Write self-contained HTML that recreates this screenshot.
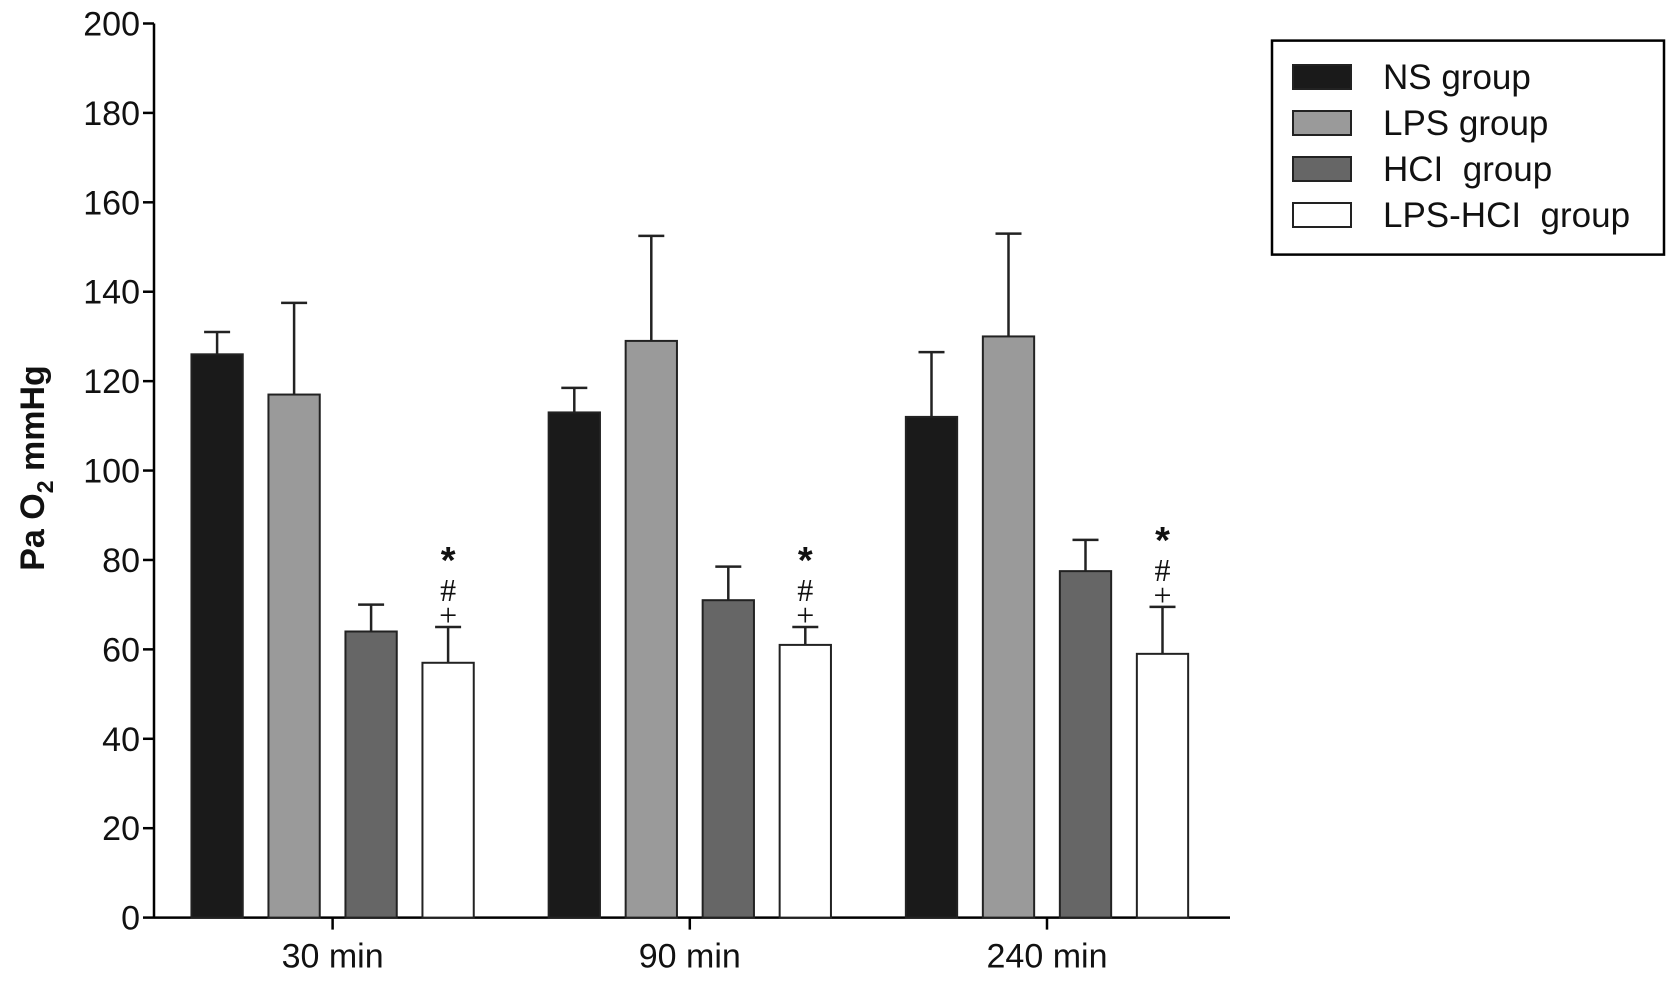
<!DOCTYPE html>
<html><head><meta charset="utf-8"><style>
html,body{margin:0;padding:0;background:#fff;}
svg{display:block;font-family:"Liberation Sans",sans-serif;}
</style></head><body>
<svg id="c" width="1677" height="981"></svg>
<script>
const categories=["30 min","90 min","240 min"];
const seriesNames=["NS group","LPS group","HCI  group","LPS-HCI  group"];
const nsValues=[126,113,112];
const nsErrors=[5,5.5,14.5];
const lpsValues=[117,129,130];
const lpsErrors=[20.5,23.5,23];
const hclValues=[64,71,77.5];
const hclErrors=[6,7.5,7];
const lpsHclValues=[57,61,59];
const lpsHclErrors=[8,4,10.5];
const yTicks=[0,20,40,60,80,100,120,140,160,180,200];
const seriesValues=[nsValues,lpsValues,hclValues,lpsHclValues];
const seriesErrors=[nsErrors,lpsErrors,hclErrors,lpsHclErrors];
const colors=["#1a1a1a","#9a9a9a","#666666","#ffffff"];
const NS="http://www.w3.org/2000/svg";
const svg=document.getElementById('c');
const x0=154,x1=1230,yTop=23.5,yBot=917.6;
const y=v=>yBot-(v/200)*(yBot-yTop);
const catX=i=>332.6+i*357.2;
const bw=51.3,step=77;
function mk(t,a,p){const e=document.createElementNS(NS,t);for(const k in a)e.setAttribute(k,a[k]);(p||svg).appendChild(e);return e;}
let e=mk('line',{x1:x0,y1:yTop,x2:x0,y2:yBot,stroke:'#000','stroke-width':2.5});


e=mk('line',{x1:x0,y1:yBot,x2:x1,y2:yBot,stroke:'#000','stroke-width':2.5});


yTicks.forEach(t=>{
  const l=mk('line',{x1:x0-11,y1:y(t),x2:x0,y2:y(t),stroke:'#000','stroke-width':2.5});
  
  
  const tx=mk('text',{x:x0-14,y:y(t)+12,'text-anchor':'end','font-size':34,fill:'#111'});
  tx.textContent=t;
  
  
});
categories.forEach((c,i)=>{
  const l=mk('line',{x1:catX(i),y1:yBot,x2:catX(i),y2:yBot+12,stroke:'#000','stroke-width':2.5});
  
  
  const tx=mk('text',{x:catX(i),y:yBot+50,'text-anchor':'middle','font-size':34,fill:'#111'});
  tx.textContent=c;
  
  
});
e=mk('text',{x:0,y:0,transform:'translate(44,468) rotate(-90)','text-anchor':'middle','font-size':34,'font-weight':'bold',fill:'#111'});
e.innerHTML='Pa O<tspan font-size="23" dy="9">2</tspan><tspan dy="-9"> mmHg</tspan>';


seriesValues.forEach((vals,s)=>{
  vals.forEach((v,i)=>{
    const cx=catX(i)+(s-1.5)*step;
    const top=y(v+seriesErrors[s][i]);
    const el=mk('line',{x1:cx,y1:y(v),x2:cx,y2:top,stroke:'#222','stroke-width':2.5});
    
    
    const cap=mk('line',{x1:cx-13,y1:top,x2:cx+13,y2:top,stroke:'#222','stroke-width':2.5});
    
    
    const r=mk('rect',{x:cx-bw/2,y:y(v),width:bw,height:yBot-y(v),fill:colors[s],stroke:'#222','stroke-width':2});
    
    
    if(s===3){
      const g=mk('text',{x:cx,y:top-12,'text-anchor':'middle','font-size':32,fill:'#111','font-family':'Liberation Serif, serif'});
      g.innerHTML='<tspan x="'+cx+'" dy="-42" font-size="38" font-weight="bold" font-family="Liberation Sans">*</tspan><tspan x="'+cx+'" dy="28">#</tspan><tspan x="'+cx+'" dy="25">+</tspan>';
      
      
    }
  });
});
e=mk('rect',{x:1272,y:40.6,width:392,height:214,fill:'#fff',stroke:'#000','stroke-width':2.5});


seriesNames.forEach((n,s)=>{
  const cy=77+s*46;
  const r=mk('rect',{x:1293,y:cy-12,width:58,height:24,fill:colors[s],stroke:'#222','stroke-width':2});
  
  
  const t=mk('text',{x:1383,y:cy+12,'font-size':35,fill:'#111','xml:space':'preserve'});
  t.setAttribute('style','white-space:pre');
  t.textContent=n;
  
  
});
</script>
</body></html>
